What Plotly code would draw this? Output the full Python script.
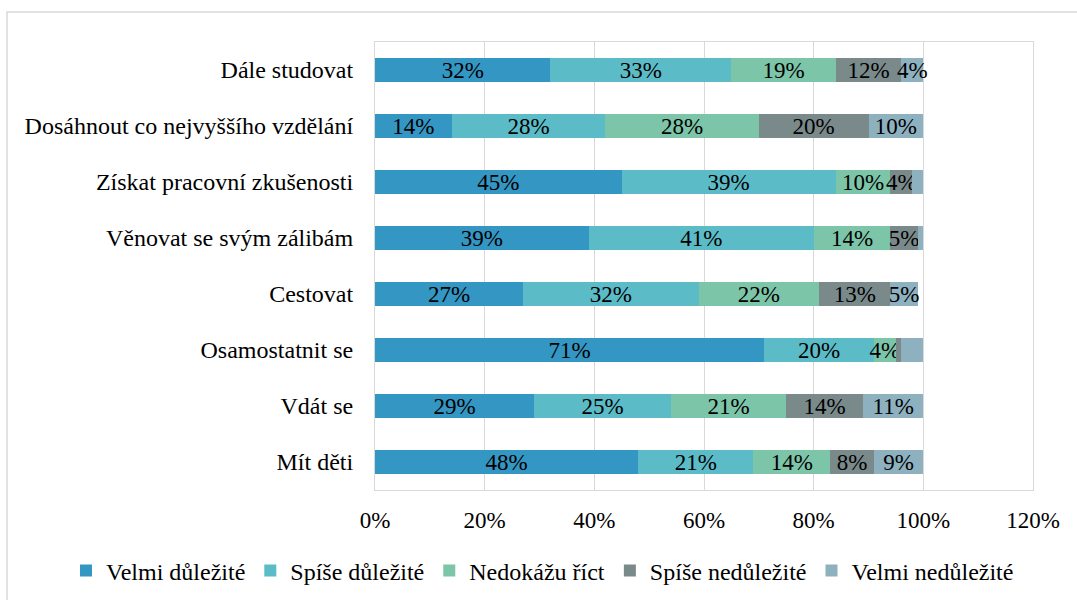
import plotly.graph_objects as go

categories = ["Dále studovat", "Dosáhnout co nejvyššího vzdělání", "Získat pracovní zkušenosti",
              "Věnovat se svým zálibám", "Cestovat", "Osamostatnit se", "Vdát se", "Mít děti"]
series_names = ["Velmi důležité", "Spíše důležité", "Nedokážu říct", "Spíše nedůležité", "Velmi nedůležité"]
velmi_dulezite = [32, 14, 45, 39, 27, 71, 29, 48]
spise_dulezite = [33, 28, 39, 41, 32, 20, 25, 21]
nedokazu_rict = [19, 28, 10, 14, 22, 4, 21, 14]
spise_nedulezite = [12, 20, 4, 5, 13, 1, 14, 8]
velmi_nedulezite = [4, 10, 2, 1, 5, 4, 11, 9]
# labels not printed in the reference (category, series index)
hidden_labels = [("Získat pracovní zkušenosti", 4), ("Věnovat se svým zálibám", 4),
                 ("Osamostatnit se", 3), ("Osamostatnit se", 4)]
x_ticks = [0, 20, 40, 60, 80, 100, 120]

colors = ["#3496c3", "#5bbcc8", "#7dc5a8", "#7a8a8b", "#8eb1c0"]
all_values = [velmi_dulezite, spise_dulezite, nedokazu_rict, spise_nedulezite, velmi_nedulezite]

FONT = "Liberation Serif"
fig = go.Figure()
for si, (name, vals, col) in enumerate(zip(series_names, all_values, colors)):
    texts = []
    for c, v in zip(categories, vals):
        texts.append("" if (c, si) in hidden_labels else f"{v}%")
    fig.add_trace(go.Bar(
        y=categories, x=vals, name=name, orientation="h",
        marker=dict(color=col, line=dict(width=0)),
        text=texts, textposition="inside", insidetextanchor="middle",
        constraintext="none", textangle=0, cliponaxis=False,
        textfont=dict(family=FONT, size=23, color="black"),
    ))

W0, W1 = 375, 1033
T0, T1 = 42, 490
pw, ph = W1 - W0, T1 - T0
fig.update_layout(
    barmode="stack",
    bargap=0.57,
    width=1077, height=600,
    margin=dict(l=W0, r=1077 - W1, t=T0, b=600 - T1, autoexpand=False),
    paper_bgcolor="white", plot_bgcolor="white",
    font=dict(family=FONT, size=22, color="black"),
    showlegend=True,
    legend=dict(orientation="h", xref="paper", yref="paper", x=(66 - W0) / pw, xanchor="left",
                y=(T1 - 571) / ph, yanchor="middle", font=dict(family=FONT, size=24),
                itemwidth=30, traceorder="normal", bgcolor="rgba(0,0,0,0)"),
    xaxis=dict(range=[0, 120], tickvals=x_ticks, ticktext=[f"{t}%" for t in x_ticks],
               showgrid=True, gridcolor="#d9d9d9", gridwidth=1, zeroline=False,
               showline=True, mirror=True, linecolor="#d9d9d9", linewidth=1, automargin=False,
               ticks="", ticklabelstandoff=9, tickfont=dict(family=FONT, size=23)),
    yaxis=dict(autorange="reversed", showgrid=False, zeroline=False, automargin=False,
               showline=True, mirror=True, linecolor="#d9d9d9", linewidth=1,
               ticks="", ticklabelstandoff=16, tickfont=dict(family=FONT, size=24)),
    shapes=[dict(type="rect", xref="paper", yref="paper",
                 x0=(7 - W0) / pw, x1=(1100 - W0) / pw,
                 y0=(T1 - 640) / ph, y1=1 + (T0 - 12) / ph,
                 line=dict(color="#d9d9d9", width=1.5), layer="below")],
)
fig.write_html("out.html", config={"displayModeBar": False},
               post_script="document.body.style.margin='0';document.body.style.overflow='hidden';")
